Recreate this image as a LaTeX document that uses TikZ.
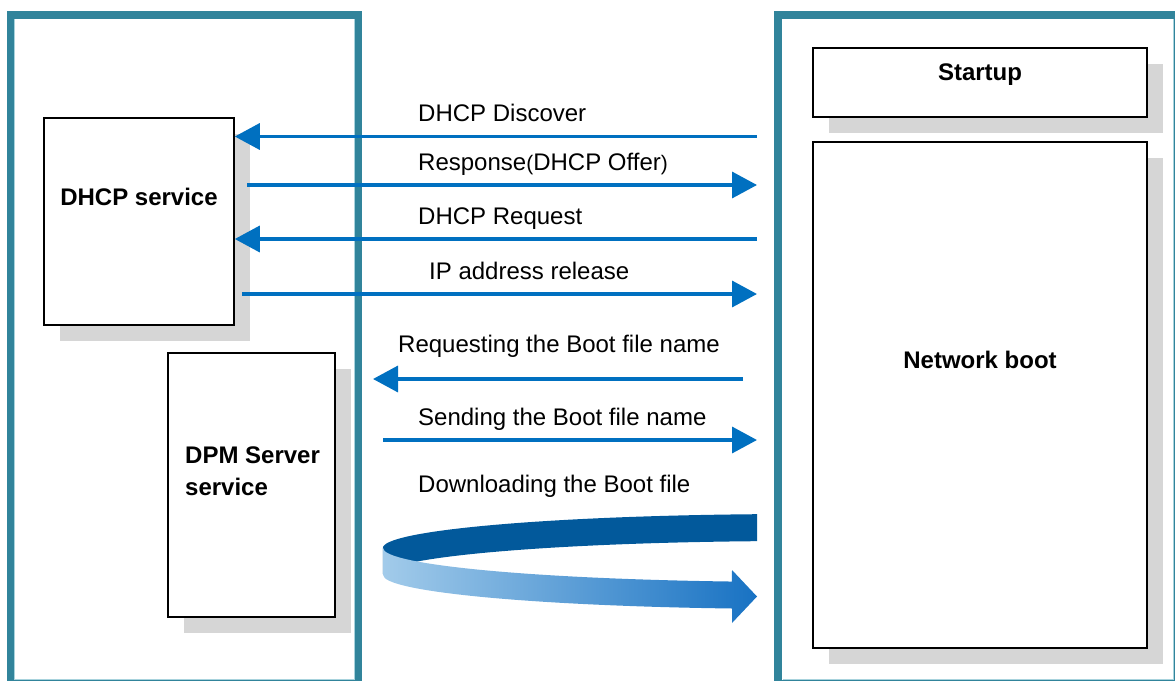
\documentclass[tikz,border=0pt]{standalone}
\usepackage{fontspec}
\setmainfont{Liberation Sans}
\usetikzlibrary{arrows.meta,shadows}
\definecolor{panel}{HTML}{31849B}
\definecolor{panellight}{HTML}{A8D3DD}
\definecolor{arrowblue}{HTML}{0070C0}
\definecolor{ribbondark}{HTML}{02599B}
\definecolor{ribbonlight}{HTML}{A2CBEA}
\definecolor{ribbonmid}{HTML}{7EAEDC}
\definecolor{ribbonend}{HTML}{1872C3}
\definecolor{shadowgray}{HTML}{D6D6D6}
\begin{document}
\begin{tikzpicture}[x=1pt,y=-1pt,
  font=\fontsize{24}{32}\selectfont,
  panelframe/.style={draw=panel,line width=8pt},
  panelinner/.style={draw=panellight,line width=1pt},
  box/.style={draw=black,line width=1.6pt,fill=white,inner sep=0pt,
    drop shadow={shadow xshift=16pt,shadow yshift=-16pt,fill=shadowgray,opacity=1}},
  msg/.style={draw=arrowblue,line width=3.5pt,-{Triangle[length=25pt,width=26pt]}},
  lbl/.style={anchor=base west,inner sep=0pt},
  title/.style={anchor=base,inner sep=0pt,font=\fontsize{24}{32}\selectfont\bfseries}]
\useasboundingbox (0,0) rectangle (1175,680);
% panels
\draw[panelframe] (10.5,15) rectangle (358,684);
\draw[panelinner] (14.5,19) -- (14.5,679.5) -- (354,679.5) -- (354,19);
\draw[panelframe] (778,15) rectangle (1178,684);
\draw[panelinner] (782.5,679.5) -- (1173.5,679.5) -- (1173.5,19);
% boxes
\node[box,minimum width=190pt,minimum height=207pt] (dhcp) at (139,221.5) {};
\node[box,minimum width=167pt,minimum height=264pt] (dpm) at (251.5,485) {};
\node[box,minimum width=334pt,minimum height=69pt] (startup) at (980,82.5) {};
\node[box,minimum width=334pt,minimum height=506pt] (netboot) at (980,395) {};
% titles
\node[title] (t1) at (980,80.5) {Startup};
\node[title] (t2) at (139,205.5) {DHCP service};
\node[title] (t3) at (980,368.5) {Network boot};
\node[title,anchor=base west] (t4a) at (185,463.5) {DPM Server};
\node[title,anchor=base west] (t4b) at (185,495.5) {service};
% message labels
\node[lbl] (l1) at (418,121.5) {DHCP Discover};
\node[lbl] (l2) at (418,170.5) {Response{\fontsize{21}{24}\selectfont(}DHCP Offer{\fontsize{21}{24}\selectfont)}};
\node[lbl] (l3) at (418,224) {DHCP Request};
\node[lbl] (l4) at (429,279) {IP address release};
\node[lbl] (l5) at (398,352) {Requesting the Boot file name};
\node[lbl] (l6) at (418,425.5) {Sending the Boot file name};
\node[lbl] (l7) at (418,492) {Downloading the Boot file};
% message arrows
\coordinate (r1) at (757,136.5);
\draw[msg] (r1) -- (dhcp.east |- r1);
\coordinate (a2) at (247,185);
\coordinate (r2) at (757,185);
\draw[msg] (a2) -- (r2);
\coordinate (r3) at (757,239);
\draw[msg] (r3) -- (dhcp.east |- r3);
\coordinate (a4) at (242,294);
\coordinate (r4) at (757,294);
\draw[msg] (a4) -- (r4);
\coordinate (r5) at (743,379);
\coordinate (a5) at (373,379);
\draw[msg] (r5) -- (a5);
\coordinate (a6) at (383,440);
\coordinate (r6) at (757,440);
\draw[msg] (a6) -- (r6);
% download ribbon
\fill[ribbondark] (757,514.2) arc[start angle=95.9,end angle=180,x radius=417pt,y radius=34pt]
  -- (383,575) arc[start angle=180,end angle=95.9,x radius=417pt,y radius=34pt] -- cycle;
\shade[left color=ribbonlight,middle color=ribbonmid,right color=ribbonend]
  (383,548) arc[start angle=180,end angle=260.6,x radius=417pt,y radius=34pt]
  -- (732,570) -- (757,596.5) -- (732,623) -- (732,608.5)
  arc[start angle=260.6,end angle=180,x radius=417pt,y radius=34pt] -- cycle;
\end{tikzpicture}
\end{document}
